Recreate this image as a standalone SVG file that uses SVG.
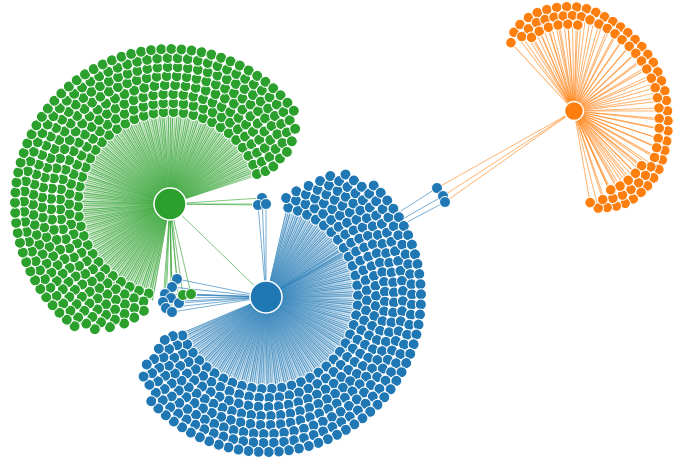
<svg xmlns="http://www.w3.org/2000/svg" width="675" height="463" viewBox="0 0 675 463">
<style>
.g{fill:#2ca02c}.b{fill:#1f77b4}.o{fill:#ff7f0e}
circle{stroke:#fff;stroke-width:1}
.hub{stroke-width:1.5}
.lk{fill:none;stroke-width:1;stroke-opacity:.6}
.lg{stroke:#2ca02c}.lb{stroke:#1f77b4}.lo{stroke:#ff7f0e}
.fan{fill:none;stroke-width:98}
.str{stroke-dasharray:.6 .7 .5 .5 .7 .8 .4 .6;stroke-opacity:.7}
</style>
<defs>
<!-- one leaf circle per ring radius; leaves are placed by rotation about their hub -->
<circle id="c1" cx="92" r="5.5"/>
<circle id="c2" cx="101" r="5.5"/>
<circle id="c3" cx="110" r="5.5"/>
<circle id="c4" cx="119" r="5.5"/>
<circle id="c5" cx="128" r="5.5"/>
<circle id="c6" cx="137" r="5.5"/>
<circle id="c7" cx="146" r="5.5"/>
<circle id="c8" cx="155" r="5.5"/>
<circle id="dot" r="5.3"/>
<radialGradient id="fg" gradientUnits="userSpaceOnUse" cx="170" cy="204" r="98">
<stop offset="0" stop-color="#2ca02c" stop-opacity=".9"/>
<stop offset=".45" stop-color="#2ca02c" stop-opacity=".5"/>
<stop offset="1" stop-color="#2ca02c" stop-opacity=".08"/>
</radialGradient>
<radialGradient id="fb" gradientUnits="userSpaceOnUse" cx="266" cy="297" r="98">
<stop offset="0" stop-color="#1f77b4" stop-opacity=".9"/>
<stop offset=".45" stop-color="#1f77b4" stop-opacity=".5"/>
<stop offset="1" stop-color="#1f77b4" stop-opacity=".08"/>
</radialGradient>
</defs>

<g id="links">
<!-- dense link fans from the two large hubs -->
<path class="fan" stroke="url(#fg)" d="M161.49 252.26A49 49 0 1 1 216.6 188.86"/>
<path class="fan str" stroke="#2ca02c" d="M161.49 252.26A49 49 0 1 1 216.6 188.86"/>
<path class="fan" stroke="url(#fb)" d="M277.02 249.26A49 49 0 1 1 220.9 316.15"/>
<path class="fan str" stroke="#1f77b4" d="M277.02 249.26A49 49 0 1 1 220.9 316.15"/>
<!-- links to shared nodes -->
<path class="lk lg" d="M170 204L177 279M170 204L172 287M170 204L165 294M170 204L171 298M170 204L163 302M170 204L179 303M170 204L166 308M170 204L172 312M170 204L183 295M170 204L191 294M170 204L262 198M170 204L258 205M170 204L266 204M170 204L266 297"/>
<path class="lk lb" d="M266 297L177 279M266 297L172 287M266 297L165 294M266 297L171 298M266 297L163 302M266 297L179 303M266 297L166 308M266 297L172 312M266 297L183 295M266 297L191 294M266 297L262 198M266 297L258 205M266 297L266 204M266 297L437 188M266 297L443 196M266 297L445 202"/>
<path class="lk lo" d="M574 111L437 188M574 111L443 196M574 111L445 202"/>
<!-- orange hub spokes -->
<g class="lk lo" transform="translate(574 111)">
<line x2="93" transform="rotate(-132.7)"/><line x2="99" transform="rotate(-127.3)"/><line x2="102" transform="rotate(-122)"/><line x2="104" transform="rotate(-116)"/><line x2="105" transform="rotate(-110.5)"/><line x2="105" transform="rotate(-105)"/><line x2="105" transform="rotate(-99.5)"/><line x2="104.5" transform="rotate(-94)"/><line x2="104" transform="rotate(-88.5)"/><line x2="103" transform="rotate(-83)"/><line x2="101" transform="rotate(-77.5)"/><line x2="99" transform="rotate(-72)"/><line x2="97.5" transform="rotate(-66.5)"/><line x2="96" transform="rotate(-61)"/><line x2="95" transform="rotate(-55.5)"/><line x2="94" transform="rotate(-49.5)"/><line x2="93.5" transform="rotate(-43.5)"/><line x2="93" transform="rotate(-37.5)"/><line x2="93" transform="rotate(-31.5)"/><line x2="92.5" transform="rotate(-25)"/><line x2="92.5" transform="rotate(-19)"/><line x2="93" transform="rotate(-12.5)"/><line x2="93" transform="rotate(-6.5)"/><line x2="93.5"/><line x2="94.5" transform="rotate(6)"/><line x2="96" transform="rotate(12)"/><line x2="97.5" transform="rotate(18)"/><line x2="99" transform="rotate(23.5)"/><line x2="101" transform="rotate(29)"/><line x2="103" transform="rotate(34.5)"/><line x2="104" transform="rotate(40)"/><line x2="105" transform="rotate(45.5)"/><line x2="105.5" transform="rotate(50.5)"/><line x2="106" transform="rotate(56)"/><line x2="105.5" transform="rotate(61)"/><line x2="104" transform="rotate(66)"/><line x2="102" transform="rotate(71)"/><line x2="100" transform="rotate(76)"/><line x2="93" transform="rotate(80)"/>
<line x2="91" transform="rotate(-125)"/><line x2="94" transform="rotate(-119)"/><line x2="96" transform="rotate(-113)"/><line x2="96" transform="rotate(-107.5)"/><line x2="96" transform="rotate(-102)"/><line x2="95.5" transform="rotate(-96.5)"/><line x2="95.5" transform="rotate(-91)"/><line x2="94.5" transform="rotate(-85.5)"/><line x2="92.5" transform="rotate(-80)"/><line x2="90.5" transform="rotate(-74)"/><line x2="89" transform="rotate(-68)"/><line x2="87.5" transform="rotate(-62)"/><line x2="86" transform="rotate(-56)"/><line x2="85" transform="rotate(-49.5)"/><line x2="84.5" transform="rotate(-43)"/><line x2="84" transform="rotate(-36.5)"/><line x2="84" transform="rotate(-30)"/><line x2="84" transform="rotate(-23)"/><line x2="84.5" transform="rotate(-16)"/><line x2="84.5" transform="rotate(-9)"/><line x2="85" transform="rotate(-2)"/><line x2="85.5" transform="rotate(5)"/><line x2="87" transform="rotate(11.5)"/><line x2="88.5" transform="rotate(18)"/><line x2="90.5" transform="rotate(24)"/><line x2="93" transform="rotate(30)"/><line x2="95" transform="rotate(36)"/><line x2="96" transform="rotate(42)"/><line x2="96.5" transform="rotate(48)"/><line x2="97" transform="rotate(54)"/><line x2="97" transform="rotate(60)"/><line x2="95.5" transform="rotate(66)"/><line x2="93" transform="rotate(72)"/>
<line x2="85" transform="rotate(-120)"/><line x2="87" transform="rotate(-113.5)"/><line x2="87.5" transform="rotate(-107)"/><line x2="87.5" transform="rotate(-100.5)"/><line x2="87" transform="rotate(-94)"/><line x2="86" transform="rotate(-87.5)"/><line x2="87" transform="rotate(39)"/><line x2="87.5" transform="rotate(45.5)"/><line x2="88" transform="rotate(52)"/><line x2="88" transform="rotate(58.5)"/><line x2="87" transform="rotate(65)"/>
</g>
</g>

<g id="nodes">
<!-- leaves of the green hub -->
<g id="green-leaves" class="g" transform="translate(170 204)">
<use id="ga1" href="#c1" transform="rotate(103.5)"/><use id="ga2" href="#c1" transform="rotate(109.75)"/><use id="ga3" href="#c1" transform="rotate(116)"/><use id="ga4" href="#c1" transform="rotate(122.25)"/><use id="ga5" href="#c1" transform="rotate(128.5)"/><use id="ga6" href="#c1" transform="rotate(134.75)"/><use id="ga7" href="#c1" transform="rotate(141)"/><use id="ga8" href="#c1" transform="rotate(147.25)"/><use id="ga9" href="#c1" transform="rotate(153.5)"/><use id="ga10" href="#c1" transform="rotate(159.75)"/><use id="ga11" href="#c1" transform="rotate(166)"/><use id="ga12" href="#c1" transform="rotate(172.25)"/><use id="ga13" href="#c1" transform="rotate(178.5)"/><use id="ga14" href="#c1" transform="rotate(184.75)"/><use id="ga15" href="#c1" transform="rotate(191)"/><use id="ga16" href="#c1" transform="rotate(197.25)"/><use id="ga17" href="#c1" transform="rotate(203.5)"/><use id="ga18" href="#c1" transform="rotate(209.75)"/><use id="ga19" href="#c1" transform="rotate(216)"/><use id="ga20" href="#c1" transform="rotate(222.25)"/><use id="ga21" href="#c1" transform="rotate(228.5)"/><use id="ga22" href="#c1" transform="rotate(234.75)"/><use id="ga23" href="#c1" transform="rotate(241)"/><use id="ga24" href="#c1" transform="rotate(247.25)"/><use id="ga25" href="#c1" transform="rotate(253.5)"/><use id="ga26" href="#c1" transform="rotate(259.75)"/><use id="ga27" href="#c1" transform="rotate(266)"/><use id="ga28" href="#c1" transform="rotate(272.25)"/><use id="ga29" href="#c1" transform="rotate(278.5)"/><use id="ga30" href="#c1" transform="rotate(284.75)"/><use id="ga31" href="#c1" transform="rotate(291)"/><use id="ga32" href="#c1" transform="rotate(297.25)"/><use id="ga33" href="#c1" transform="rotate(303.5)"/><use id="ga34" href="#c1" transform="rotate(309.75)"/><use id="ga35" href="#c1" transform="rotate(316)"/><use id="ga36" href="#c1" transform="rotate(322.25)"/><use id="ga37" href="#c1" transform="rotate(328.5)"/><use id="ga38" href="#c1" transform="rotate(334.75)"/><use id="ga39" href="#c1" transform="rotate(341)"/>
<use id="gb1" href="#c2" transform="rotate(105.25)"/><use id="gb2" href="#c2" transform="rotate(111)"/><use id="gb3" href="#c2" transform="rotate(116.75)"/><use id="gb4" href="#c2" transform="rotate(122.5)"/><use id="gb5" href="#c2" transform="rotate(128.25)"/><use id="gb6" href="#c2" transform="rotate(134)"/><use id="gb7" href="#c2" transform="rotate(139.75)"/><use id="gb8" href="#c2" transform="rotate(145.5)"/><use id="gb9" href="#c2" transform="rotate(151.25)"/><use id="gb10" href="#c2" transform="rotate(157)"/><use id="gb11" href="#c2" transform="rotate(162.75)"/><use id="gb12" href="#c2" transform="rotate(168.5)"/><use id="gb13" href="#c2" transform="rotate(174.25)"/><use id="gb14" href="#c2" transform="rotate(180)"/><use id="gb15" href="#c2" transform="rotate(185.75)"/><use id="gb16" href="#c2" transform="rotate(191.5)"/><use id="gb17" href="#c2" transform="rotate(197.25)"/><use id="gb18" href="#c2" transform="rotate(203)"/><use id="gb19" href="#c2" transform="rotate(208.75)"/><use id="gb20" href="#c2" transform="rotate(214.5)"/><use id="gb21" href="#c2" transform="rotate(220.25)"/><use id="gb22" href="#c2" transform="rotate(226)"/><use id="gb23" href="#c2" transform="rotate(231.75)"/><use id="gb24" href="#c2" transform="rotate(237.5)"/><use id="gb25" href="#c2" transform="rotate(243.25)"/><use id="gb26" href="#c2" transform="rotate(249)"/><use id="gb27" href="#c2" transform="rotate(254.75)"/><use id="gb28" href="#c2" transform="rotate(260.5)"/><use id="gb29" href="#c2" transform="rotate(266.25)"/><use id="gb30" href="#c2" transform="rotate(272)"/><use id="gb31" href="#c2" transform="rotate(277.75)"/><use id="gb32" href="#c2" transform="rotate(283.5)"/><use id="gb33" href="#c2" transform="rotate(289.25)"/><use id="gb34" href="#c2" transform="rotate(295)"/><use id="gb35" href="#c2" transform="rotate(300.75)"/><use id="gb36" href="#c2" transform="rotate(306.5)"/><use id="gb37" href="#c2" transform="rotate(312.25)"/><use id="gb38" href="#c2" transform="rotate(318)"/><use id="gb39" href="#c2" transform="rotate(323.75)"/><use id="gb40" href="#c2" transform="rotate(329.5)"/><use id="gb41" href="#c2" transform="rotate(335.25)"/><use id="gb42" href="#c2" transform="rotate(341)"/>
<use id="gc1" href="#c3" transform="rotate(103.75)"/><use id="gc2" href="#c3" transform="rotate(109)"/><use id="gc3" href="#c3" transform="rotate(114.25)"/><use id="gc4" href="#c3" transform="rotate(119.5)"/><use id="gc5" href="#c3" transform="rotate(124.75)"/><use id="gc6" href="#c3" transform="rotate(130)"/><use id="gc7" href="#c3" transform="rotate(135.25)"/><use id="gc8" href="#c3" transform="rotate(140.5)"/><use id="gc9" href="#c3" transform="rotate(145.75)"/><use id="gc10" href="#c3" transform="rotate(151)"/><use id="gc11" href="#c3" transform="rotate(156.25)"/><use id="gc12" href="#c3" transform="rotate(161.5)"/><use id="gc13" href="#c3" transform="rotate(166.75)"/><use id="gc14" href="#c3" transform="rotate(172)"/><use id="gc15" href="#c3" transform="rotate(177.25)"/><use id="gc16" href="#c3" transform="rotate(182.5)"/><use id="gc17" href="#c3" transform="rotate(187.75)"/><use id="gc18" href="#c3" transform="rotate(193)"/><use id="gc19" href="#c3" transform="rotate(198.25)"/><use id="gc20" href="#c3" transform="rotate(203.5)"/><use id="gc21" href="#c3" transform="rotate(208.75)"/><use id="gc22" href="#c3" transform="rotate(214)"/><use id="gc23" href="#c3" transform="rotate(219.25)"/><use id="gc24" href="#c3" transform="rotate(224.5)"/><use id="gc25" href="#c3" transform="rotate(229.75)"/><use id="gc26" href="#c3" transform="rotate(235)"/><use id="gc27" href="#c3" transform="rotate(240.25)"/><use id="gc28" href="#c3" transform="rotate(245.5)"/><use id="gc29" href="#c3" transform="rotate(250.75)"/><use id="gc30" href="#c3" transform="rotate(256)"/><use id="gc31" href="#c3" transform="rotate(261.25)"/><use id="gc32" href="#c3" transform="rotate(266.5)"/><use id="gc33" href="#c3" transform="rotate(271.75)"/><use id="gc34" href="#c3" transform="rotate(277)"/><use id="gc35" href="#c3" transform="rotate(282.25)"/><use id="gc36" href="#c3" transform="rotate(287.5)"/><use id="gc37" href="#c3" transform="rotate(292.75)"/><use id="gc38" href="#c3" transform="rotate(298)"/><use id="gc39" href="#c3" transform="rotate(303.25)"/><use id="gc40" href="#c3" transform="rotate(308.5)"/><use id="gc41" href="#c3" transform="rotate(313.75)"/><use id="gc42" href="#c3" transform="rotate(319)"/><use id="gc43" href="#c3" transform="rotate(324.25)"/><use id="gc44" href="#c3" transform="rotate(329.5)"/><use id="gc45" href="#c3" transform="rotate(334.75)"/><use id="gc46" href="#c3" transform="rotate(340)"/>
<use id="gd1" href="#c4" transform="rotate(107.5)"/><use id="gd2" href="#c4" transform="rotate(112.5)"/><use id="gd3" href="#c4" transform="rotate(117.5)"/><use id="gd4" href="#c4" transform="rotate(122.5)"/><use id="gd5" href="#c4" transform="rotate(127.5)"/><use id="gd6" href="#c4" transform="rotate(132.5)"/><use id="gd7" href="#c4" transform="rotate(137.5)"/><use id="gd8" href="#c4" transform="rotate(142.5)"/><use id="gd9" href="#c4" transform="rotate(147.5)"/><use id="gd10" href="#c4" transform="rotate(152.5)"/><use id="gd11" href="#c4" transform="rotate(157.5)"/><use id="gd12" href="#c4" transform="rotate(162.5)"/><use id="gd13" href="#c4" transform="rotate(167.5)"/><use id="gd14" href="#c4" transform="rotate(172.5)"/><use id="gd15" href="#c4" transform="rotate(177.5)"/><use id="gd16" href="#c4" transform="rotate(182.5)"/><use id="gd17" href="#c4" transform="rotate(187.5)"/><use id="gd18" href="#c4" transform="rotate(192.5)"/><use id="gd19" href="#c4" transform="rotate(197.5)"/><use id="gd20" href="#c4" transform="rotate(202.5)"/><use id="gd21" href="#c4" transform="rotate(207.5)"/><use id="gd22" href="#c4" transform="rotate(212.5)"/><use id="gd23" href="#c4" transform="rotate(217.5)"/><use id="gd24" href="#c4" transform="rotate(222.5)"/><use id="gd25" href="#c4" transform="rotate(227.5)"/><use id="gd26" href="#c4" transform="rotate(232.5)"/><use id="gd27" href="#c4" transform="rotate(237.5)"/><use id="gd28" href="#c4" transform="rotate(242.5)"/><use id="gd29" href="#c4" transform="rotate(247.5)"/><use id="gd30" href="#c4" transform="rotate(252.5)"/><use id="gd31" href="#c4" transform="rotate(257.5)"/><use id="gd32" href="#c4" transform="rotate(262.5)"/><use id="gd33" href="#c4" transform="rotate(267.5)"/><use id="gd34" href="#c4" transform="rotate(272.5)"/><use id="gd35" href="#c4" transform="rotate(277.5)"/><use id="gd36" href="#c4" transform="rotate(282.5)"/><use id="gd37" href="#c4" transform="rotate(287.5)"/><use id="gd38" href="#c4" transform="rotate(292.5)"/><use id="gd39" href="#c4" transform="rotate(297.5)"/><use id="gd40" href="#c4" transform="rotate(302.5)"/><use id="gd41" href="#c4" transform="rotate(307.5)"/><use id="gd42" href="#c4" transform="rotate(312.5)"/><use id="gd43" href="#c4" transform="rotate(317.5)"/><use id="gd44" href="#c4" transform="rotate(322.5)"/><use id="gd45" href="#c4" transform="rotate(327.5)"/><use id="gd46" href="#c4" transform="rotate(332.5)"/><use id="gd47" href="#c4" transform="rotate(337.5)"/>
<use id="ge1" href="#c5" transform="rotate(111)"/><use id="ge2" href="#c5" transform="rotate(115.5)"/><use id="ge3" href="#c5" transform="rotate(120)"/><use id="ge4" href="#c5" transform="rotate(124.5)"/><use id="ge5" href="#c5" transform="rotate(129)"/><use id="ge6" href="#c5" transform="rotate(133.5)"/><use id="ge7" href="#c5" transform="rotate(138)"/><use id="ge8" href="#c5" transform="rotate(142.5)"/><use id="ge9" href="#c5" transform="rotate(147)"/><use id="ge10" href="#c5" transform="rotate(151.5)"/><use id="ge11" href="#c5" transform="rotate(156)"/><use id="ge12" href="#c5" transform="rotate(160.5)"/><use id="ge13" href="#c5" transform="rotate(165)"/><use id="ge14" href="#c5" transform="rotate(169.5)"/><use id="ge15" href="#c5" transform="rotate(174)"/><use id="ge16" href="#c5" transform="rotate(178.5)"/><use id="ge17" href="#c5" transform="rotate(183)"/><use id="ge18" href="#c5" transform="rotate(187.5)"/><use id="ge19" href="#c5" transform="rotate(192)"/><use id="ge20" href="#c5" transform="rotate(196.5)"/><use id="ge21" href="#c5" transform="rotate(201)"/><use id="ge22" href="#c5" transform="rotate(205.5)"/><use id="ge23" href="#c5" transform="rotate(210)"/><use id="ge24" href="#c5" transform="rotate(214.5)"/><use id="ge25" href="#c5" transform="rotate(219)"/><use id="ge26" href="#c5" transform="rotate(223.5)"/><use id="ge27" href="#c5" transform="rotate(228)"/><use id="ge28" href="#c5" transform="rotate(232.5)"/><use id="ge29" href="#c5" transform="rotate(237)"/><use id="ge30" href="#c5" transform="rotate(241.5)"/><use id="ge31" href="#c5" transform="rotate(246)"/><use id="ge32" href="#c5" transform="rotate(250.5)"/><use id="ge33" href="#c5" transform="rotate(255)"/><use id="ge34" href="#c5" transform="rotate(259.5)"/><use id="ge35" href="#c5" transform="rotate(264)"/><use id="ge36" href="#c5" transform="rotate(268.5)"/><use id="ge37" href="#c5" transform="rotate(273)"/><use id="ge38" href="#c5" transform="rotate(277.5)"/><use id="ge39" href="#c5" transform="rotate(282)"/><use id="ge40" href="#c5" transform="rotate(286.5)"/><use id="ge41" href="#c5" transform="rotate(291)"/><use id="ge42" href="#c5" transform="rotate(295.5)"/><use id="ge43" href="#c5" transform="rotate(300)"/><use id="ge44" href="#c5" transform="rotate(304.5)"/><use id="ge45" href="#c5" transform="rotate(309)"/><use id="ge46" href="#c5" transform="rotate(313.5)"/><use id="ge47" href="#c5" transform="rotate(318)"/><use id="ge48" href="#c5" transform="rotate(322.5)"/><use id="ge49" href="#c5" transform="rotate(327)"/><use id="ge50" href="#c5" transform="rotate(331.5)"/><use id="ge51" href="#c5" transform="rotate(336)"/>
<use id="gf1" href="#c6" transform="rotate(116)"/><use id="gf2" href="#c6" transform="rotate(120.25)"/><use id="gf3" href="#c6" transform="rotate(124.5)"/><use id="gf4" href="#c6" transform="rotate(128.75)"/><use id="gf5" href="#c6" transform="rotate(133)"/><use id="gf6" href="#c6" transform="rotate(137.25)"/><use id="gf7" href="#c6" transform="rotate(141.5)"/><use id="gf8" href="#c6" transform="rotate(145.75)"/><use id="gf9" href="#c6" transform="rotate(150)"/><use id="gf10" href="#c6" transform="rotate(154.25)"/><use id="gf11" href="#c6" transform="rotate(158.5)"/><use id="gf12" href="#c6" transform="rotate(162.75)"/><use id="gf13" href="#c6" transform="rotate(167)"/><use id="gf14" href="#c6" transform="rotate(171.25)"/><use id="gf15" href="#c6" transform="rotate(175.5)"/><use id="gf16" href="#c6" transform="rotate(179.75)"/><use id="gf17" href="#c6" transform="rotate(184)"/><use id="gf18" href="#c6" transform="rotate(188.25)"/><use id="gf19" href="#c6" transform="rotate(192.5)"/><use id="gf20" href="#c6" transform="rotate(196.75)"/><use id="gf21" href="#c6" transform="rotate(201)"/><use id="gf22" href="#c6" transform="rotate(205.25)"/><use id="gf23" href="#c6" transform="rotate(209.5)"/><use id="gf24" href="#c6" transform="rotate(213.75)"/><use id="gf25" href="#c6" transform="rotate(218)"/><use id="gf26" href="#c6" transform="rotate(222.25)"/><use id="gf27" href="#c6" transform="rotate(226.5)"/><use id="gf28" href="#c6" transform="rotate(230.75)"/><use id="gf29" href="#c6" transform="rotate(235)"/><use id="gf30" href="#c6" transform="rotate(239.25)"/><use id="gf31" href="#c6" transform="rotate(243.5)"/><use id="gf32" href="#c6" transform="rotate(247.75)"/><use id="gf33" href="#c6" transform="rotate(252)"/><use id="gf34" href="#c6" transform="rotate(256.25)"/><use id="gf35" href="#c6" transform="rotate(260.5)"/><use id="gf36" href="#c6" transform="rotate(264.75)"/><use id="gf37" href="#c6" transform="rotate(269)"/><use id="gf38" href="#c6" transform="rotate(273.25)"/><use id="gf39" href="#c6" transform="rotate(277.5)"/><use id="gf40" href="#c6" transform="rotate(281.75)"/><use id="gf41" href="#c6" transform="rotate(286)"/><use id="gf42" href="#c6" transform="rotate(290.25)"/><use id="gf43" href="#c6" transform="rotate(294.5)"/><use id="gf44" href="#c6" transform="rotate(298.75)"/><use id="gf45" href="#c6" transform="rotate(303)"/><use id="gf46" href="#c6" transform="rotate(307.25)"/><use id="gf47" href="#c6" transform="rotate(311.5)"/><use id="gf48" href="#c6" transform="rotate(315.75)"/><use id="gf49" href="#c6" transform="rotate(320)"/><use id="gf50" href="#c6" transform="rotate(324.25)"/><use id="gf51" href="#c6" transform="rotate(328.5)"/><use id="gf52" href="#c6" transform="rotate(332.75)"/>
<use id="gg1" href="#c7" transform="rotate(121)"/><use id="gg2" href="#c7" transform="rotate(125)"/><use id="gg3" href="#c7" transform="rotate(129)"/><use id="gg4" href="#c7" transform="rotate(133)"/><use id="gg5" href="#c7" transform="rotate(137)"/><use id="gg6" href="#c7" transform="rotate(141)"/><use id="gg7" href="#c7" transform="rotate(145)"/><use id="gg8" href="#c7" transform="rotate(149)"/><use id="gg9" href="#c7" transform="rotate(153)"/><use id="gg10" href="#c7" transform="rotate(157)"/><use id="gg11" href="#c7" transform="rotate(161)"/><use id="gg12" href="#c7" transform="rotate(165)"/><use id="gg13" href="#c7" transform="rotate(169)"/><use id="gg14" href="#c7" transform="rotate(173)"/><use id="gg15" href="#c7" transform="rotate(177)"/><use id="gg16" href="#c7" transform="rotate(181)"/><use id="gg17" href="#c7" transform="rotate(185)"/><use id="gg18" href="#c7" transform="rotate(189)"/><use id="gg19" href="#c7" transform="rotate(193)"/><use id="gg20" href="#c7" transform="rotate(197)"/><use id="gg21" href="#c7" transform="rotate(201)"/><use id="gg22" href="#c7" transform="rotate(205)"/><use id="gg23" href="#c7" transform="rotate(209)"/><use id="gg24" href="#c7" transform="rotate(213)"/><use id="gg25" href="#c7" transform="rotate(217)"/><use id="gg26" href="#c7" transform="rotate(221)"/><use id="gg27" href="#c7" transform="rotate(225)"/><use id="gg28" href="#c7" transform="rotate(229)"/><use id="gg29" href="#c7" transform="rotate(233)"/><use id="gg30" href="#c7" transform="rotate(237)"/><use id="gg31" href="#c7" transform="rotate(241)"/><use id="gg32" href="#c7" transform="rotate(245)"/><use id="gg33" href="#c7" transform="rotate(249)"/><use id="gg34" href="#c7" transform="rotate(253)"/><use id="gg35" href="#c7" transform="rotate(257)"/><use id="gg36" href="#c7" transform="rotate(261)"/><use id="gg37" href="#c7" transform="rotate(265)"/><use id="gg38" href="#c7" transform="rotate(269)"/><use id="gg39" href="#c7" transform="rotate(273)"/><use id="gg40" href="#c7" transform="rotate(277)"/><use id="gg41" href="#c7" transform="rotate(281)"/><use id="gg42" href="#c7" transform="rotate(285)"/><use id="gg43" href="#c7" transform="rotate(289)"/><use id="gg44" href="#c7" transform="rotate(293)"/><use id="gg45" href="#c7" transform="rotate(297)"/><use id="gg46" href="#c7" transform="rotate(301)"/><use id="gg47" href="#c7" transform="rotate(305)"/><use id="gg48" href="#c7" transform="rotate(309)"/><use id="gg49" href="#c7" transform="rotate(313)"/><use id="gg50" href="#c7" transform="rotate(317)"/><use id="gg51" href="#c7" transform="rotate(321)"/><use id="gg52" href="#c7" transform="rotate(325)"/><use id="gg53" href="#c7" transform="rotate(329)"/>
<use id="gh1" href="#c8" transform="rotate(128)"/><use id="gh2" href="#c8" transform="rotate(131.75)"/><use id="gh3" href="#c8" transform="rotate(135.5)"/><use id="gh4" href="#c8" transform="rotate(139.25)"/><use id="gh5" href="#c8" transform="rotate(143)"/><use id="gh6" href="#c8" transform="rotate(146.75)"/><use id="gh7" href="#c8" transform="rotate(150.5)"/><use id="gh8" href="#c8" transform="rotate(154.25)"/><use id="gh9" href="#c8" transform="rotate(158)"/><use id="gh10" href="#c8" transform="rotate(161.75)"/><use id="gh11" href="#c8" transform="rotate(165.5)"/><use id="gh12" href="#c8" transform="rotate(169.25)"/><use id="gh13" href="#c8" transform="rotate(173)"/><use id="gh14" href="#c8" transform="rotate(176.75)"/><use id="gh15" href="#c8" transform="rotate(180.5)"/><use id="gh16" href="#c8" transform="rotate(184.25)"/><use id="gh17" href="#c8" transform="rotate(188)"/><use id="gh18" href="#c8" transform="rotate(191.75)"/><use id="gh19" href="#c8" transform="rotate(195.5)"/><use id="gh20" href="#c8" transform="rotate(199.25)"/><use id="gh21" href="#c8" transform="rotate(203)"/><use id="gh22" href="#c8" transform="rotate(206.75)"/><use id="gh23" href="#c8" transform="rotate(210.5)"/><use id="gh24" href="#c8" transform="rotate(214.25)"/><use id="gh25" href="#c8" transform="rotate(218)"/><use id="gh26" href="#c8" transform="rotate(221.75)"/><use id="gh27" href="#c8" transform="rotate(225.5)"/><use id="gh28" href="#c8" transform="rotate(229.25)"/><use id="gh29" href="#c8" transform="rotate(233)"/><use id="gh30" href="#c8" transform="rotate(236.75)"/><use id="gh31" href="#c8" transform="rotate(240.5)"/><use id="gh32" href="#c8" transform="rotate(244.25)"/><use id="gh33" href="#c8" transform="rotate(248)"/><use id="gh34" href="#c8" transform="rotate(251.75)"/><use id="gh35" href="#c8" transform="rotate(255.5)"/><use id="gh36" href="#c8" transform="rotate(259.25)"/><use id="gh37" href="#c8" transform="rotate(263)"/><use id="gh38" href="#c8" transform="rotate(266.75)"/><use id="gh39" href="#c8" transform="rotate(270.5)"/><use id="gh40" href="#c8" transform="rotate(274.25)"/><use id="gh41" href="#c8" transform="rotate(278)"/><use id="gh42" href="#c8" transform="rotate(281.75)"/><use id="gh43" href="#c8" transform="rotate(285.5)"/><use id="gh44" href="#c8" transform="rotate(289.25)"/><use id="gh45" href="#c8" transform="rotate(293)"/><use id="gh46" href="#c8" transform="rotate(296.75)"/><use id="gh47" href="#c8" transform="rotate(300.5)"/><use id="gh48" href="#c8" transform="rotate(304.25)"/><use id="gh49" href="#c8" transform="rotate(308)"/><use id="gh50" href="#c8" transform="rotate(311.75)"/><use id="gh51" href="#c8" transform="rotate(315.5)"/><use id="gh52" href="#c8" transform="rotate(319.25)"/><use id="gh53" href="#c8" transform="rotate(323)"/>
</g>

<!-- leaves of the blue hub -->
<g id="blue-leaves" class="b" transform="translate(266 297)">
<use id="ba1" href="#c1" transform="rotate(-76)"/><use id="ba2" href="#c1" transform="rotate(-69.75)"/><use id="ba3" href="#c1" transform="rotate(-63.5)"/><use id="ba4" href="#c1" transform="rotate(-57.25)"/><use id="ba5" href="#c1" transform="rotate(-51)"/><use id="ba6" href="#c1" transform="rotate(-44.75)"/><use id="ba7" href="#c1" transform="rotate(-38.5)"/><use id="ba8" href="#c1" transform="rotate(-32.25)"/><use id="ba9" href="#c1" transform="rotate(-26)"/><use id="ba10" href="#c1" transform="rotate(-19.75)"/><use id="ba11" href="#c1" transform="rotate(-13.5)"/><use id="ba12" href="#c1" transform="rotate(-7.25)"/><use id="ba13" href="#c1" transform="rotate(-1)"/><use id="ba14" href="#c1" transform="rotate(5.25)"/><use id="ba15" href="#c1" transform="rotate(11.5)"/><use id="ba16" href="#c1" transform="rotate(17.75)"/><use id="ba17" href="#c1" transform="rotate(24)"/><use id="ba18" href="#c1" transform="rotate(30.25)"/><use id="ba19" href="#c1" transform="rotate(36.5)"/><use id="ba20" href="#c1" transform="rotate(42.75)"/><use id="ba21" href="#c1" transform="rotate(49)"/><use id="ba22" href="#c1" transform="rotate(55.25)"/><use id="ba23" href="#c1" transform="rotate(61.5)"/><use id="ba24" href="#c1" transform="rotate(67.75)"/><use id="ba25" href="#c1" transform="rotate(74)"/><use id="ba26" href="#c1" transform="rotate(80.25)"/><use id="ba27" href="#c1" transform="rotate(86.5)"/><use id="ba28" href="#c1" transform="rotate(92.75)"/><use id="ba29" href="#c1" transform="rotate(99)"/><use id="ba30" href="#c1" transform="rotate(105.25)"/><use id="ba31" href="#c1" transform="rotate(111.5)"/><use id="ba32" href="#c1" transform="rotate(117.75)"/><use id="ba33" href="#c1" transform="rotate(124)"/><use id="ba34" href="#c1" transform="rotate(130.25)"/><use id="ba35" href="#c1" transform="rotate(136.5)"/><use id="ba36" href="#c1" transform="rotate(142.75)"/><use id="ba37" href="#c1" transform="rotate(149)"/><use id="ba38" href="#c1" transform="rotate(155.25)"/>
<use id="bb1" href="#c2" transform="rotate(-78.5)"/><use id="bb2" href="#c2" transform="rotate(-72.75)"/><use id="bb3" href="#c2" transform="rotate(-67)"/><use id="bb4" href="#c2" transform="rotate(-61.25)"/><use id="bb5" href="#c2" transform="rotate(-55.5)"/><use id="bb6" href="#c2" transform="rotate(-49.75)"/><use id="bb7" href="#c2" transform="rotate(-44)"/><use id="bb8" href="#c2" transform="rotate(-38.25)"/><use id="bb9" href="#c2" transform="rotate(-32.5)"/><use id="bb10" href="#c2" transform="rotate(-26.75)"/><use id="bb11" href="#c2" transform="rotate(-21)"/><use id="bb12" href="#c2" transform="rotate(-15.25)"/><use id="bb13" href="#c2" transform="rotate(-9.5)"/><use id="bb14" href="#c2" transform="rotate(-3.75)"/><use id="bb15" href="#c2" transform="rotate(2)"/><use id="bb16" href="#c2" transform="rotate(7.75)"/><use id="bb17" href="#c2" transform="rotate(13.5)"/><use id="bb18" href="#c2" transform="rotate(19.25)"/><use id="bb19" href="#c2" transform="rotate(25)"/><use id="bb20" href="#c2" transform="rotate(30.75)"/><use id="bb21" href="#c2" transform="rotate(36.5)"/><use id="bb22" href="#c2" transform="rotate(42.25)"/><use id="bb23" href="#c2" transform="rotate(48)"/><use id="bb24" href="#c2" transform="rotate(53.75)"/><use id="bb25" href="#c2" transform="rotate(59.5)"/><use id="bb26" href="#c2" transform="rotate(65.25)"/><use id="bb27" href="#c2" transform="rotate(71)"/><use id="bb28" href="#c2" transform="rotate(76.75)"/><use id="bb29" href="#c2" transform="rotate(82.5)"/><use id="bb30" href="#c2" transform="rotate(88.25)"/><use id="bb31" href="#c2" transform="rotate(94)"/><use id="bb32" href="#c2" transform="rotate(99.75)"/><use id="bb33" href="#c2" transform="rotate(105.5)"/><use id="bb34" href="#c2" transform="rotate(111.25)"/><use id="bb35" href="#c2" transform="rotate(117)"/><use id="bb36" href="#c2" transform="rotate(122.75)"/><use id="bb37" href="#c2" transform="rotate(128.5)"/><use id="bb38" href="#c2" transform="rotate(134.25)"/><use id="bb39" href="#c2" transform="rotate(140)"/><use id="bb40" href="#c2" transform="rotate(145.75)"/><use id="bb41" href="#c2" transform="rotate(151.5)"/><use id="bb42" href="#c2" transform="rotate(157.25)"/>
<use id="bc1" href="#c3" transform="rotate(-74)"/><use id="bc2" href="#c3" transform="rotate(-68.75)"/><use id="bc3" href="#c3" transform="rotate(-63.5)"/><use id="bc4" href="#c3" transform="rotate(-58.25)"/><use id="bc5" href="#c3" transform="rotate(-53)"/><use id="bc6" href="#c3" transform="rotate(-47.75)"/><use id="bc7" href="#c3" transform="rotate(-42.5)"/><use id="bc8" href="#c3" transform="rotate(-37.25)"/><use id="bc9" href="#c3" transform="rotate(-32)"/><use id="bc10" href="#c3" transform="rotate(-26.75)"/><use id="bc11" href="#c3" transform="rotate(-21.5)"/><use id="bc12" href="#c3" transform="rotate(-16.25)"/><use id="bc13" href="#c3" transform="rotate(-11)"/><use id="bc14" href="#c3" transform="rotate(-5.75)"/><use id="bc15" href="#c3" transform="rotate(-0.5)"/><use id="bc16" href="#c3" transform="rotate(4.75)"/><use id="bc17" href="#c3" transform="rotate(10)"/><use id="bc18" href="#c3" transform="rotate(15.25)"/><use id="bc19" href="#c3" transform="rotate(20.5)"/><use id="bc20" href="#c3" transform="rotate(25.75)"/><use id="bc21" href="#c3" transform="rotate(31)"/><use id="bc22" href="#c3" transform="rotate(36.25)"/><use id="bc23" href="#c3" transform="rotate(41.5)"/><use id="bc24" href="#c3" transform="rotate(46.75)"/><use id="bc25" href="#c3" transform="rotate(52)"/><use id="bc26" href="#c3" transform="rotate(57.25)"/><use id="bc27" href="#c3" transform="rotate(62.5)"/><use id="bc28" href="#c3" transform="rotate(67.75)"/><use id="bc29" href="#c3" transform="rotate(73)"/><use id="bc30" href="#c3" transform="rotate(78.25)"/><use id="bc31" href="#c3" transform="rotate(83.5)"/><use id="bc32" href="#c3" transform="rotate(88.75)"/><use id="bc33" href="#c3" transform="rotate(94)"/><use id="bc34" href="#c3" transform="rotate(99.25)"/><use id="bc35" href="#c3" transform="rotate(104.5)"/><use id="bc36" href="#c3" transform="rotate(109.75)"/><use id="bc37" href="#c3" transform="rotate(115)"/><use id="bc38" href="#c3" transform="rotate(120.25)"/><use id="bc39" href="#c3" transform="rotate(125.5)"/><use id="bc40" href="#c3" transform="rotate(130.75)"/><use id="bc41" href="#c3" transform="rotate(136)"/><use id="bc42" href="#c3" transform="rotate(141.25)"/><use id="bc43" href="#c3" transform="rotate(146.5)"/><use id="bc44" href="#c3" transform="rotate(151.75)"/><use id="bc45" href="#c3" transform="rotate(157)"/>
<use id="bd1" href="#c4" transform="rotate(-69)"/><use id="bd2" href="#c4" transform="rotate(-64.25)"/><use id="bd3" href="#c4" transform="rotate(-59.5)"/><use id="bd4" href="#c4" transform="rotate(-54.75)"/><use id="bd5" href="#c4" transform="rotate(-50)"/><use id="bd6" href="#c4" transform="rotate(-45.25)"/><use id="bd7" href="#c4" transform="rotate(-40.5)"/><use id="bd8" href="#c4" transform="rotate(-35.75)"/><use id="bd9" href="#c4" transform="rotate(-31)"/><use id="bd10" href="#c4" transform="rotate(-26.25)"/><use id="bd11" href="#c4" transform="rotate(-21.5)"/><use id="bd12" href="#c4" transform="rotate(-16.75)"/><use id="bd13" href="#c4" transform="rotate(-12)"/><use id="bd14" href="#c4" transform="rotate(-7.25)"/><use id="bd15" href="#c4" transform="rotate(-2.5)"/><use id="bd16" href="#c4" transform="rotate(2.25)"/><use id="bd17" href="#c4" transform="rotate(7)"/><use id="bd18" href="#c4" transform="rotate(11.75)"/><use id="bd19" href="#c4" transform="rotate(16.5)"/><use id="bd20" href="#c4" transform="rotate(21.25)"/><use id="bd21" href="#c4" transform="rotate(26)"/><use id="bd22" href="#c4" transform="rotate(30.75)"/><use id="bd23" href="#c4" transform="rotate(35.5)"/><use id="bd24" href="#c4" transform="rotate(40.25)"/><use id="bd25" href="#c4" transform="rotate(45)"/><use id="bd26" href="#c4" transform="rotate(49.75)"/><use id="bd27" href="#c4" transform="rotate(54.5)"/><use id="bd28" href="#c4" transform="rotate(59.25)"/><use id="bd29" href="#c4" transform="rotate(64)"/><use id="bd30" href="#c4" transform="rotate(68.75)"/><use id="bd31" href="#c4" transform="rotate(73.5)"/><use id="bd32" href="#c4" transform="rotate(78.25)"/><use id="bd33" href="#c4" transform="rotate(83)"/><use id="bd34" href="#c4" transform="rotate(87.75)"/><use id="bd35" href="#c4" transform="rotate(92.5)"/><use id="bd36" href="#c4" transform="rotate(97.25)"/><use id="bd37" href="#c4" transform="rotate(102)"/><use id="bd38" href="#c4" transform="rotate(106.75)"/><use id="bd39" href="#c4" transform="rotate(111.5)"/><use id="bd40" href="#c4" transform="rotate(116.25)"/><use id="bd41" href="#c4" transform="rotate(121)"/><use id="bd42" href="#c4" transform="rotate(125.75)"/><use id="bd43" href="#c4" transform="rotate(130.5)"/><use id="bd44" href="#c4" transform="rotate(135.25)"/><use id="bd45" href="#c4" transform="rotate(140)"/><use id="bd46" href="#c4" transform="rotate(144.75)"/><use id="bd47" href="#c4" transform="rotate(149.5)"/><use id="bd48" href="#c4" transform="rotate(154.25)"/>
<use id="be1" href="#c5" transform="rotate(-65)"/><use id="be2" href="#c5" transform="rotate(-60.5)"/><use id="be3" href="#c5" transform="rotate(-56)"/><use id="be4" href="#c5" transform="rotate(-51.5)"/><use id="be5" href="#c5" transform="rotate(-47)"/><use id="be6" href="#c5" transform="rotate(-42.5)"/><use id="be7" href="#c5" transform="rotate(-38)"/><use id="be8" href="#c5" transform="rotate(-33.5)"/><use id="be9" href="#c5" transform="rotate(-29)"/><use id="be10" href="#c5" transform="rotate(-24.5)"/><use id="be11" href="#c5" transform="rotate(-20)"/><use id="be12" href="#c5" transform="rotate(-15.5)"/><use id="be13" href="#c5" transform="rotate(-11)"/><use id="be14" href="#c5" transform="rotate(-6.5)"/><use id="be15" href="#c5" transform="rotate(-2)"/><use id="be16" href="#c5" transform="rotate(2.5)"/><use id="be17" href="#c5" transform="rotate(7)"/><use id="be18" href="#c5" transform="rotate(11.5)"/><use id="be19" href="#c5" transform="rotate(16)"/><use id="be20" href="#c5" transform="rotate(20.5)"/><use id="be21" href="#c5" transform="rotate(25)"/><use id="be22" href="#c5" transform="rotate(29.5)"/><use id="be23" href="#c5" transform="rotate(34)"/><use id="be24" href="#c5" transform="rotate(38.5)"/><use id="be25" href="#c5" transform="rotate(43)"/><use id="be26" href="#c5" transform="rotate(47.5)"/><use id="be27" href="#c5" transform="rotate(52)"/><use id="be28" href="#c5" transform="rotate(56.5)"/><use id="be29" href="#c5" transform="rotate(61)"/><use id="be30" href="#c5" transform="rotate(65.5)"/><use id="be31" href="#c5" transform="rotate(70)"/><use id="be32" href="#c5" transform="rotate(74.5)"/><use id="be33" href="#c5" transform="rotate(79)"/><use id="be34" href="#c5" transform="rotate(83.5)"/><use id="be35" href="#c5" transform="rotate(88)"/><use id="be36" href="#c5" transform="rotate(92.5)"/><use id="be37" href="#c5" transform="rotate(97)"/><use id="be38" href="#c5" transform="rotate(101.5)"/><use id="be39" href="#c5" transform="rotate(106)"/><use id="be40" href="#c5" transform="rotate(110.5)"/><use id="be41" href="#c5" transform="rotate(115)"/><use id="be42" href="#c5" transform="rotate(119.5)"/><use id="be43" href="#c5" transform="rotate(124)"/><use id="be44" href="#c5" transform="rotate(128.5)"/><use id="be45" href="#c5" transform="rotate(133)"/><use id="be46" href="#c5" transform="rotate(137.5)"/><use id="be47" href="#c5" transform="rotate(142)"/><use id="be48" href="#c5" transform="rotate(146.5)"/><use id="be49" href="#c5" transform="rotate(151)"/>
<use id="bf1" href="#c6" transform="rotate(-62)"/><use id="bf2" href="#c6" transform="rotate(-57.75)"/><use id="bf3" href="#c6" transform="rotate(-53.5)"/><use id="bf4" href="#c6" transform="rotate(-49.25)"/><use id="bf5" href="#c6" transform="rotate(-45)"/><use id="bf6" href="#c6" transform="rotate(-40.75)"/><use id="bf7" href="#c6" transform="rotate(-36.5)"/><use id="bf8" href="#c6" transform="rotate(-32.25)"/><use id="bf9" href="#c6" transform="rotate(-28)"/><use id="bf10" href="#c6" transform="rotate(-23.75)"/><use id="bf11" href="#c6" transform="rotate(-19.5)"/><use id="bf12" href="#c6" transform="rotate(-15.25)"/><use id="bf13" href="#c6" transform="rotate(-11)"/><use id="bf14" href="#c6" transform="rotate(-6.75)"/><use id="bf15" href="#c6" transform="rotate(-2.5)"/><use id="bf16" href="#c6" transform="rotate(1.75)"/><use id="bf17" href="#c6" transform="rotate(6)"/><use id="bf18" href="#c6" transform="rotate(10.25)"/><use id="bf19" href="#c6" transform="rotate(14.5)"/><use id="bf20" href="#c6" transform="rotate(18.75)"/><use id="bf21" href="#c6" transform="rotate(23)"/><use id="bf22" href="#c6" transform="rotate(27.25)"/><use id="bf23" href="#c6" transform="rotate(31.5)"/><use id="bf24" href="#c6" transform="rotate(35.75)"/><use id="bf25" href="#c6" transform="rotate(40)"/><use id="bf26" href="#c6" transform="rotate(44.25)"/><use id="bf27" href="#c6" transform="rotate(48.5)"/><use id="bf28" href="#c6" transform="rotate(52.75)"/><use id="bf29" href="#c6" transform="rotate(57)"/><use id="bf30" href="#c6" transform="rotate(61.25)"/><use id="bf31" href="#c6" transform="rotate(65.5)"/><use id="bf32" href="#c6" transform="rotate(69.75)"/><use id="bf33" href="#c6" transform="rotate(74)"/><use id="bf34" href="#c6" transform="rotate(78.25)"/><use id="bf35" href="#c6" transform="rotate(82.5)"/><use id="bf36" href="#c6" transform="rotate(86.75)"/><use id="bf37" href="#c6" transform="rotate(91)"/><use id="bf38" href="#c6" transform="rotate(95.25)"/><use id="bf39" href="#c6" transform="rotate(99.5)"/><use id="bf40" href="#c6" transform="rotate(103.75)"/><use id="bf41" href="#c6" transform="rotate(108)"/><use id="bf42" href="#c6" transform="rotate(112.25)"/><use id="bf43" href="#c6" transform="rotate(116.5)"/><use id="bf44" href="#c6" transform="rotate(120.75)"/><use id="bf45" href="#c6" transform="rotate(125)"/><use id="bf46" href="#c6" transform="rotate(129.25)"/><use id="bf47" href="#c6" transform="rotate(133.5)"/><use id="bf48" href="#c6" transform="rotate(137.75)"/><use id="bf49" href="#c6" transform="rotate(142)"/><use id="bf50" href="#c6" transform="rotate(146.25)"/><use id="bf51" href="#c6" transform="rotate(150.5)"/>
<use id="bg1" href="#c7" transform="rotate(-57)"/><use id="bg2" href="#c7" transform="rotate(-53)"/><use id="bg3" href="#c7" transform="rotate(-49)"/><use id="bg4" href="#c7" transform="rotate(-45)"/><use id="bg5" href="#c7" transform="rotate(-41)"/><use id="bg6" href="#c7" transform="rotate(-37)"/><use id="bg7" href="#c7" transform="rotate(-33)"/><use id="bg8" href="#c7" transform="rotate(-29)"/><use id="bg9" href="#c7" transform="rotate(-25)"/><use id="bg10" href="#c7" transform="rotate(-21)"/><use id="bg11" href="#c7" transform="rotate(-17)"/><use id="bg12" href="#c7" transform="rotate(-13)"/><use id="bg13" href="#c7" transform="rotate(-9)"/><use id="bg14" href="#c7" transform="rotate(-5)"/><use id="bg15" href="#c7" transform="rotate(-1)"/><use id="bg16" href="#c7" transform="rotate(3)"/><use id="bg17" href="#c7" transform="rotate(7)"/><use id="bg18" href="#c7" transform="rotate(11)"/><use id="bg19" href="#c7" transform="rotate(15)"/><use id="bg20" href="#c7" transform="rotate(19)"/><use id="bg21" href="#c7" transform="rotate(23)"/><use id="bg22" href="#c7" transform="rotate(27)"/><use id="bg23" href="#c7" transform="rotate(31)"/><use id="bg24" href="#c7" transform="rotate(35)"/><use id="bg25" href="#c7" transform="rotate(39)"/><use id="bg26" href="#c7" transform="rotate(43)"/><use id="bg27" href="#c7" transform="rotate(47)"/><use id="bg28" href="#c7" transform="rotate(51)"/><use id="bg29" href="#c7" transform="rotate(55)"/><use id="bg30" href="#c7" transform="rotate(59)"/><use id="bg31" href="#c7" transform="rotate(63)"/><use id="bg32" href="#c7" transform="rotate(67)"/><use id="bg33" href="#c7" transform="rotate(71)"/><use id="bg34" href="#c7" transform="rotate(75)"/><use id="bg35" href="#c7" transform="rotate(79)"/><use id="bg36" href="#c7" transform="rotate(83)"/><use id="bg37" href="#c7" transform="rotate(87)"/><use id="bg38" href="#c7" transform="rotate(91)"/><use id="bg39" href="#c7" transform="rotate(95)"/><use id="bg40" href="#c7" transform="rotate(99)"/><use id="bg41" href="#c7" transform="rotate(103)"/><use id="bg42" href="#c7" transform="rotate(107)"/><use id="bg43" href="#c7" transform="rotate(111)"/><use id="bg44" href="#c7" transform="rotate(115)"/><use id="bg45" href="#c7" transform="rotate(119)"/><use id="bg46" href="#c7" transform="rotate(123)"/><use id="bg47" href="#c7" transform="rotate(127)"/><use id="bg48" href="#c7" transform="rotate(131)"/><use id="bg49" href="#c7" transform="rotate(135)"/><use id="bg50" href="#c7" transform="rotate(139)"/><use id="bg51" href="#c7" transform="rotate(143)"/><use id="bg52" href="#c7" transform="rotate(147)"/>
<use id="bh1" href="#c8" transform="rotate(-46)"/><use id="bh2" href="#c8" transform="rotate(-42.25)"/><use id="bh3" href="#c8" transform="rotate(-38.5)"/><use id="bh4" href="#c8" transform="rotate(-34.75)"/><use id="bh5" href="#c8" transform="rotate(-31)"/><use id="bh6" href="#c8" transform="rotate(-27.25)"/><use id="bh7" href="#c8" transform="rotate(-23.5)"/><use id="bh8" href="#c8" transform="rotate(-19.75)"/><use id="bh9" href="#c8" transform="rotate(-16)"/><use id="bh10" href="#c8" transform="rotate(-12.25)"/><use id="bh11" href="#c8" transform="rotate(-8.5)"/><use id="bh12" href="#c8" transform="rotate(-4.75)"/><use id="bh13" href="#c8" transform="rotate(-1)"/><use id="bh14" href="#c8" transform="rotate(2.75)"/><use id="bh15" href="#c8" transform="rotate(6.5)"/><use id="bh16" href="#c8" transform="rotate(10.25)"/><use id="bh17" href="#c8" transform="rotate(14)"/><use id="bh18" href="#c8" transform="rotate(17.75)"/><use id="bh19" href="#c8" transform="rotate(21.5)"/><use id="bh20" href="#c8" transform="rotate(25.25)"/><use id="bh21" href="#c8" transform="rotate(29)"/><use id="bh22" href="#c8" transform="rotate(32.75)"/><use id="bh23" href="#c8" transform="rotate(36.5)"/><use id="bh24" href="#c8" transform="rotate(40.25)"/><use id="bh25" href="#c8" transform="rotate(44)"/><use id="bh26" href="#c8" transform="rotate(47.75)"/><use id="bh27" href="#c8" transform="rotate(51.5)"/><use id="bh28" href="#c8" transform="rotate(55.25)"/><use id="bh29" href="#c8" transform="rotate(59)"/><use id="bh30" href="#c8" transform="rotate(62.75)"/><use id="bh31" href="#c8" transform="rotate(66.5)"/><use id="bh32" href="#c8" transform="rotate(70.25)"/><use id="bh33" href="#c8" transform="rotate(74)"/><use id="bh34" href="#c8" transform="rotate(77.75)"/><use id="bh35" href="#c8" transform="rotate(81.5)"/><use id="bh36" href="#c8" transform="rotate(85.25)"/><use id="bh37" href="#c8" transform="rotate(89)"/><use id="bh38" href="#c8" transform="rotate(92.75)"/><use id="bh39" href="#c8" transform="rotate(96.5)"/><use id="bh40" href="#c8" transform="rotate(100.25)"/><use id="bh41" href="#c8" transform="rotate(104)"/><use id="bh42" href="#c8" transform="rotate(107.75)"/><use id="bh43" href="#c8" transform="rotate(111.5)"/><use id="bh44" href="#c8" transform="rotate(115.25)"/><use id="bh45" href="#c8" transform="rotate(119)"/><use id="bh46" href="#c8" transform="rotate(122.75)"/><use id="bh47" href="#c8" transform="rotate(126.5)"/><use id="bh48" href="#c8" transform="rotate(130.25)"/><use id="bh49" href="#c8" transform="rotate(134)"/><use id="bh50" href="#c8" transform="rotate(137.75)"/>
</g>

<!-- leaves of the orange hub -->
<g id="orange-leaves" class="o" transform="translate(574 111)">
<use id="o1" href="#dot" transform="rotate(-132.7)translate(93)"/><use id="o2" href="#dot" transform="rotate(-127.3)translate(99)"/><use id="o3" href="#dot" transform="rotate(-122)translate(102)"/><use id="o4" href="#dot" transform="rotate(-116)translate(104)"/><use id="o5" href="#dot" transform="rotate(-110.5)translate(105)"/><use id="o6" href="#dot" transform="rotate(-105)translate(105)"/><use id="o7" href="#dot" transform="rotate(-99.5)translate(105)"/><use id="o8" href="#dot" transform="rotate(-94)translate(104.5)"/><use id="o9" href="#dot" transform="rotate(-88.5)translate(104)"/><use id="o10" href="#dot" transform="rotate(-83)translate(103)"/><use id="o11" href="#dot" transform="rotate(-77.5)translate(101)"/><use id="o12" href="#dot" transform="rotate(-72)translate(99)"/><use id="o13" href="#dot" transform="rotate(-66.5)translate(97.5)"/><use id="o14" href="#dot" transform="rotate(-61)translate(96)"/><use id="o15" href="#dot" transform="rotate(-55.5)translate(95)"/><use id="o16" href="#dot" transform="rotate(-49.5)translate(94)"/><use id="o17" href="#dot" transform="rotate(-43.5)translate(93.5)"/><use id="o18" href="#dot" transform="rotate(-37.5)translate(93)"/><use id="o19" href="#dot" transform="rotate(-31.5)translate(93)"/><use id="o20" href="#dot" transform="rotate(-25)translate(92.5)"/><use id="o21" href="#dot" transform="rotate(-19)translate(92.5)"/><use id="o22" href="#dot" transform="rotate(-12.5)translate(93)"/><use id="o23" href="#dot" transform="rotate(-6.5)translate(93)"/><use id="o24" href="#dot" transform="translate(93.5)"/><use id="o25" href="#dot" transform="rotate(6)translate(94.5)"/><use id="o26" href="#dot" transform="rotate(12)translate(96)"/><use id="o27" href="#dot" transform="rotate(18)translate(97.5)"/><use id="o28" href="#dot" transform="rotate(23.5)translate(99)"/><use id="o29" href="#dot" transform="rotate(29)translate(101)"/><use id="o30" href="#dot" transform="rotate(34.5)translate(103)"/><use id="o31" href="#dot" transform="rotate(40)translate(104)"/><use id="o32" href="#dot" transform="rotate(45.5)translate(105)"/><use id="o33" href="#dot" transform="rotate(50.5)translate(105.5)"/><use id="o34" href="#dot" transform="rotate(56)translate(106)"/><use id="o35" href="#dot" transform="rotate(61)translate(105.5)"/><use id="o36" href="#dot" transform="rotate(66)translate(104)"/><use id="o37" href="#dot" transform="rotate(71)translate(102)"/><use id="o38" href="#dot" transform="rotate(76)translate(100)"/><use id="o39" href="#dot" transform="rotate(80)translate(93)"/>
<use id="om1" href="#dot" transform="rotate(-125)translate(91)"/><use id="om2" href="#dot" transform="rotate(-119)translate(94)"/><use id="om3" href="#dot" transform="rotate(-113)translate(96)"/><use id="om4" href="#dot" transform="rotate(-107.5)translate(96)"/><use id="om5" href="#dot" transform="rotate(-102)translate(96)"/><use id="om6" href="#dot" transform="rotate(-96.5)translate(95.5)"/><use id="om7" href="#dot" transform="rotate(-91)translate(95.5)"/><use id="om8" href="#dot" transform="rotate(-85.5)translate(94.5)"/><use id="om9" href="#dot" transform="rotate(-80)translate(92.5)"/><use id="om10" href="#dot" transform="rotate(-74)translate(90.5)"/><use id="om11" href="#dot" transform="rotate(-68)translate(89)"/><use id="om12" href="#dot" transform="rotate(-62)translate(87.5)"/><use id="om13" href="#dot" transform="rotate(-56)translate(86)"/><use id="om14" href="#dot" transform="rotate(-49.5)translate(85)"/><use id="om15" href="#dot" transform="rotate(-43)translate(84.5)"/><use id="om16" href="#dot" transform="rotate(-36.5)translate(84)"/><use id="om17" href="#dot" transform="rotate(-30)translate(84)"/><use id="om18" href="#dot" transform="rotate(-23)translate(84)"/><use id="om19" href="#dot" transform="rotate(-16)translate(84.5)"/><use id="om20" href="#dot" transform="rotate(-9)translate(84.5)"/><use id="om21" href="#dot" transform="rotate(-2)translate(85)"/><use id="om22" href="#dot" transform="rotate(5)translate(85.5)"/><use id="om23" href="#dot" transform="rotate(11.5)translate(87)"/><use id="om24" href="#dot" transform="rotate(18)translate(88.5)"/><use id="om25" href="#dot" transform="rotate(24)translate(90.5)"/><use id="om26" href="#dot" transform="rotate(30)translate(93)"/><use id="om27" href="#dot" transform="rotate(36)translate(95)"/><use id="om28" href="#dot" transform="rotate(42)translate(96)"/><use id="om29" href="#dot" transform="rotate(48)translate(96.5)"/><use id="om30" href="#dot" transform="rotate(54)translate(97)"/><use id="om31" href="#dot" transform="rotate(60)translate(97)"/><use id="om32" href="#dot" transform="rotate(66)translate(95.5)"/><use id="om33" href="#dot" transform="rotate(72)translate(93)"/>
<use id="oi1" href="#dot" transform="rotate(-120)translate(85)"/><use id="oi2" href="#dot" transform="rotate(-113.5)translate(87)"/><use id="oi3" href="#dot" transform="rotate(-107)translate(87.5)"/><use id="oi4" href="#dot" transform="rotate(-100.5)translate(87.5)"/><use id="oi5" href="#dot" transform="rotate(-94)translate(87)"/><use id="oi6" href="#dot" transform="rotate(-87.5)translate(86)"/><use id="oi7" href="#dot" transform="rotate(39)translate(87)"/><use id="oi8" href="#dot" transform="rotate(45.5)translate(87.5)"/><use id="oi9" href="#dot" transform="rotate(52)translate(88)"/><use id="oi10" href="#dot" transform="rotate(58.5)translate(88)"/><use id="oi11" href="#dot" transform="rotate(65)translate(87)"/>
</g>

<!-- nodes linked to more than one hub -->
<g id="shared-left" class="b">
<circle id="s1" cx="177" cy="279" r="5.5"/><circle id="s2" cx="172" cy="287" r="5.5"/><circle id="s3" cx="165" cy="294" r="5.5"/><circle id="s4" cx="171" cy="298" r="5.5"/><circle id="s5" cx="163" cy="302" r="5.5"/><circle id="s6" cx="179" cy="303" r="5.5"/><circle id="s7" cx="166" cy="308" r="5.5"/><circle id="s8" cx="172" cy="312" r="5.5"/>
</g>
<g id="shared-left-green" class="g">
<circle id="s9" cx="183" cy="295" r="5.5"/><circle id="s10" cx="191" cy="294" r="5.5"/>
</g>
<g id="shared-top" class="b">
<circle id="t1" cx="262" cy="198" r="5.5"/><circle id="t2" cx="258" cy="205" r="5.5"/><circle id="t3" cx="266" cy="204" r="5.5"/>
</g>
<g id="shared-right" class="b">
<circle id="u1" cx="437" cy="188" r="5.5"/><circle id="u2" cx="443" cy="196" r="5.5"/><circle id="u3" cx="445" cy="202" r="5.5"/>
</g>

<!-- hubs -->
<g id="hub-green" class="g"><circle class="hub" cx="170" cy="204" r="16"/></g>
<g id="hub-blue" class="b"><circle class="hub" cx="266" cy="297" r="16"/></g>
<g id="hub-orange" class="o"><circle class="hub" cx="574" cy="111" r="9.5"/></g>
</g>
</svg>
